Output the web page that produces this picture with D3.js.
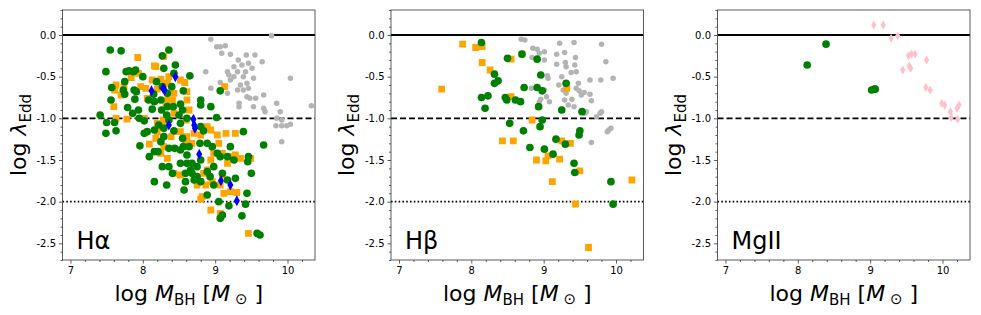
<!DOCTYPE html>
<html><head><meta charset="utf-8">
<script src="https://cdn.jsdelivr.net/npm/d3@7"></script>
<style>body{margin:0;background:#fff} svg{display:block} text{font-family:"DejaVu Sans",sans-serif}</style>
</head><body><svg id="c" width="981" height="315"></svg>
<script>
// ---- data ----
const panelNames = ["Hα", "Hβ", "MgII"];
const xTicks = [7, 8, 9, 10];
const xTickLabels = ["7", "8", "9", "10"];
const yTicks = [0, -0.5, -1, -1.5, -2, -2.5];
const yTickLabels = ["0.0", "-0.5", "-1.0", "-1.5", "-2.0", "-2.5"];
const refSolid = 0, refDashed = -1, refDotted = -2;

// H-alpha panel
const haGray = [[8.94,-0.05],[9.02,-0.14],[9.07,-0.14],[9.14,-0.13],[9.09,-0.22],[9.21,-0.23],[9.32,-0.30],[9.43,-0.24],[9.55,-0.24],[9.65,-0.32],[9.78,-0.01],[8.87,-0.44],[9.26,-0.38],[9.37,-0.36],[9.46,-0.34],[9.51,-0.40],[9.31,-0.44],[9.42,-0.44],[9.39,-0.50],[9.53,-0.52],[9.17,-0.44],[9.19,-0.48],[9.26,-0.50],[9.21,-0.54],[9.07,-0.57],[8.94,-0.64],[9.35,-0.60],[9.44,-0.58],[9.46,-0.64],[9.31,-0.66],[9.39,-0.66],[9.17,-0.70],[9.44,-0.74],[9.48,-0.76],[9.56,-0.76],[9.67,-0.72],[9.33,-0.82],[9.33,-0.86],[9.53,-0.86],[9.67,-0.88],[9.69,-0.92],[9.85,-0.82],[9.90,-0.92],[10.04,-0.52],[10.33,-0.85],[9.85,-1.00],[9.92,-1.02],[9.84,-1.09],[9.92,-1.09],[9.99,-1.09],[10.04,-1.07],[9.92,-1.28]];
const haOrange = [[7.93,-0.27],[8.16,-0.37],[8.18,-0.38],[8.29,-0.26],[7.63,-0.60],[7.61,-0.66],[7.60,-0.86],[7.63,-1.00],[7.78,-1.01],[7.70,-0.72],[7.74,-0.63],[7.84,-0.51],[7.94,-0.46],[7.97,-0.62],[8.06,-0.76],[8.04,-0.64],[8.13,-0.54],[8.25,-0.53],[8.20,-0.65],[8.29,-0.61],[8.34,-0.58],[8.43,-0.70],[8.41,-0.78],[8.58,-0.57],[8.61,-0.68],[8.61,-0.78],[8.34,-0.78],[8.32,-0.84],[8.43,-0.94],[8.64,-0.90],[8.02,-1.00],[8.20,-1.06],[8.28,-1.02],[8.29,-1.06],[8.20,-1.16],[8.18,-1.24],[8.09,-1.31],[8.39,-1.22],[8.29,-1.34],[8.43,-1.16],[8.52,-1.16],[8.60,-1.02],[8.61,-1.22],[8.71,-1.18],[8.80,-1.20],[8.89,-1.10],[8.94,-1.14],[9.03,-1.20],[9.05,-1.30],[9.15,-1.18],[9.28,-1.18],[9.13,-0.62],[8.98,-1.42],[9.10,-1.42],[9.21,-1.46],[9.28,-1.44],[9.17,-1.54],[9.35,-1.48],[9.49,-1.48],[8.94,-1.50],[8.89,-1.62],[8.84,-1.66],[8.87,-1.80],[8.80,-1.76],[8.75,-1.80],[8.82,-1.94],[8.80,-1.97],[8.96,-1.76],[9.07,-1.80],[9.12,-1.90],[9.10,-1.68],[9.21,-1.88],[9.30,-1.89],[8.94,-2.10],[9.07,-2.14],[9.46,-2.38],[8.59,-1.28],[8.68,-1.30],[8.34,-1.48],[8.43,-1.66],[8.52,-1.68],[8.25,-1.42],[8.52,-0.54],[8.36,-0.50]];
const haGreen = [[7.41,-0.96],[7.49,-0.44],[7.55,-0.18],[7.70,-0.19],[7.57,-0.63],[7.56,-0.78],[7.50,-1.05],[7.61,-1.05],[7.49,-1.18],[7.63,-1.15],[7.77,-0.44],[7.81,-0.43],[7.75,-0.56],[7.73,-0.66],[7.75,-0.71],[7.79,-0.87],[7.87,-0.44],[7.90,-0.42],[7.88,-0.66],[7.91,-0.68],[7.89,-0.77],[7.94,-0.90],[8.00,-0.50],[7.95,-1.00],[7.86,-0.94],[8.02,-1.03],[8.08,-0.78],[8.16,-0.80],[8.13,-0.89],[8.15,-0.71],[8.19,-0.56],[8.25,-0.78],[8.27,-0.25],[8.36,-0.18],[8.29,-0.40],[8.27,-0.62],[8.34,-0.70],[8.45,-0.36],[8.43,-0.46],[8.40,-0.62],[8.34,-0.86],[8.42,-0.86],[8.52,-0.83],[8.55,-0.90],[8.56,-0.67],[8.65,-0.49],[8.50,-0.96],[8.52,-1.06],[8.61,-1.00],[8.80,-0.78],[8.80,-0.84],[8.94,-0.86],[9.02,-0.99],[9.07,-0.67],[8.80,-1.10],[8.84,-1.15],[8.79,-1.30],[8.89,-1.30],[8.96,-1.34],[9.03,-1.42],[9.07,-1.46],[9.17,-1.46],[9.21,-1.34],[9.26,-1.50],[9.39,-1.16],[9.46,-1.46],[9.45,-1.52],[9.50,-1.66],[9.44,-1.90],[9.42,-2.03],[9.07,-2.20],[9.10,-2.16],[9.19,-2.05],[9.37,-2.17],[9.58,-2.38],[9.62,-2.40],[9.67,-1.32],[8.93,-1.70],[8.98,-1.58],[8.98,-1.80],[9.10,-1.66],[8.75,-1.58],[8.68,-1.54],[8.66,-1.62],[8.59,-1.66],[8.59,-1.76],[8.71,-1.74],[8.75,-1.70],[8.57,-1.86],[8.89,-1.92],[9.17,-1.74],[8.89,-1.64],[8.80,-1.50],[8.61,-1.44],[8.52,-1.38],[8.44,-1.36],[8.36,-1.36],[8.56,-1.34],[8.55,-1.24],[8.25,-1.28],[8.29,-1.22],[8.21,-1.40],[8.41,-1.66],[8.36,-1.58],[8.27,-1.58],[8.16,-1.40],[8.09,-1.46],[7.96,-1.33],[8.33,-1.80],[8.16,-1.76],[8.02,-1.18],[8.06,-1.16],[8.22,-1.08],[8.29,-1.12],[8.36,-1.02],[8.43,-1.15],[8.16,-1.14],[8.26,-0.90],[8.33,-0.96],[8.64,-1.34],[8.52,-1.54],[8.61,-1.54],[8.68,-1.66],[8.80,-1.76],[9.05,-2.00],[9.28,-1.72]];
const haBlue = [[8.12,-0.67],[8.28,-0.64],[8.30,-0.66],[8.45,-0.50],[8.36,-1.08],[8.70,-1.01],[8.71,-1.08],[8.72,-1.12],[8.78,-1.43],[9.08,-1.75],[9.21,-1.80],[9.30,-1.99]];

// H-beta panel
const hbGray = [[8.69,-0.05],[8.74,-0.06],[8.85,-0.16],[8.91,-0.17],[8.84,-0.27],[8.94,-0.22],[9.01,-0.20],[9.01,-0.30],[9.22,-0.10],[9.29,-0.21],[9.42,-0.09],[9.18,-0.23],[9.18,-0.35],[9.30,-0.33],[9.31,-0.38],[9.44,-0.27],[9.43,-0.36],[9.45,-0.44],[9.38,-0.45],[9.06,-0.52],[9.05,-0.49],[9.25,-0.50],[9.21,-0.60],[9.27,-0.66],[9.31,-0.70],[9.48,-0.58],[9.45,-0.64],[9.49,-0.67],[9.52,-0.72],[9.56,-0.69],[9.64,-0.54],[9.64,-0.71],[9.66,-0.79],[9.79,-0.54],[9.80,-0.11],[9.86,-0.32],[9.96,-0.52],[8.96,-0.77],[8.94,-0.80],[9.04,-0.74],[9.08,-0.80],[9.29,-0.78],[9.34,-0.84],[9.39,-0.77],[9.42,-0.86],[9.59,-0.92],[9.57,-0.94],[9.73,-0.98],[9.78,-0.94],[9.80,-0.92],[9.90,-1.14],[9.93,-1.12],[9.88,-1.16],[9.66,-1.29],[8.83,-0.64],[9.01,-0.66]];
const hbOrange = [[7.59,-0.65],[7.88,-0.11],[8.06,-0.15],[8.15,-0.14],[8.15,-0.33],[8.26,-0.42],[8.55,-0.74],[8.55,-0.29],[8.70,-0.23],[8.43,-1.27],[8.58,-1.27],[8.84,-1.02],[8.90,-1.50],[9.03,-1.51],[9.06,-1.45],[9.22,-1.49],[9.25,-1.27],[9.37,-1.30],[9.32,-0.64],[9.12,-1.76],[9.50,-1.63],[9.44,-2.03],[9.62,-2.55],[10.22,-1.74]];
const hbGreen = [[8.14,-0.09],[8.14,-0.75],[8.23,-0.73],[8.19,-0.88],[8.32,-0.47],[8.32,-0.58],[8.37,-0.55],[8.50,-0.28],[8.47,-0.75],[8.49,-0.78],[8.61,-0.78],[8.68,-0.80],[8.53,-1.06],[8.73,-0.63],[8.70,-0.23],[8.72,-1.15],[8.81,-1.35],[8.91,-0.29],[8.91,-0.63],[8.96,-0.48],[8.98,-0.67],[8.93,-0.86],[8.98,-1.02],[8.95,-1.10],[9.01,-1.37],[9.13,-1.43],[9.17,-1.25],[9.25,-0.90],[9.31,-0.58],[9.30,-1.31],[9.42,-1.54],[9.43,-1.65],[9.50,-1.15],[9.49,-1.20],[9.53,-0.92],[9.93,-1.76],[9.96,-2.03]];

// MgII panel
const mgGreen = [[8.13,-0.36],[8.39,-0.11],[9.02,-0.66],[9.06,-0.65],[9.07,-0.65]];
const mgPink = [[9.05,0.12],[9.18,0.12],[9.29,-0.04],[9.38,-0.01],[9.53,-0.25],[9.57,-0.23],[9.62,-0.23],[9.54,-0.37],[9.56,-0.40],[9.45,-0.42],[9.78,-0.30],[9.77,-0.63],[9.83,-0.66],[9.99,-0.82],[10.03,-0.84],[10.11,-0.92],[10.12,-0.99],[10.20,-0.88],[10.23,-0.84],[10.21,-1.01]];

const panelSeries = [
  [{d: haGray, t: "gray"}, {d: haOrange, t: "orange"}, {d: haGreen, t: "green"}, {d: haBlue, t: "blue"}],
  [{d: hbGray, t: "gray"}, {d: hbOrange, t: "orange"}, {d: hbGreen, t: "green"}],
  [{d: mgGreen, t: "green"}, {d: mgPink, t: "pink"}]
];

// ---- layout ----
const svg = d3.select("#c");
const lefts = [62.5, 391, 717.5];
const W = 252.5, topY = 10, H = 250;
const xDomain = [6.89, 10.38], yDomain = [-2.7, 0.3];
const spine = "#333";

panelSeries.forEach((series, i) => {
  const x0 = lefts[i];
  const x = d3.scaleLinear().domain(xDomain).range([x0, x0 + W]);
  const y = d3.scaleLinear().domain(yDomain).range([topY + H, topY]);
  const g = svg.append("g");

  const clip = "clip" + i;
  svg.append("clipPath").attr("id", clip).append("rect").attr("x", x0).attr("y", topY).attr("width", W).attr("height", H);
  const pg = g.append("g").attr("clip-path", `url(#${clip})`);
  pg.append("line").attr("x1", x0).attr("x2", x0 + W).attr("y1", y(refSolid)).attr("y2", y(refSolid))
    .attr("stroke", "#000").attr("stroke-width", 1.8);
  pg.append("line").attr("x1", x0).attr("x2", x0 + W).attr("y1", y(refDashed)).attr("y2", y(refDashed))
    .attr("stroke", "#000").attr("stroke-width", 1.8).attr("stroke-dasharray", "6,3");
  pg.append("line").attr("x1", x0).attr("x2", x0 + W).attr("y1", y(refDotted)).attr("y2", y(refDotted))
    .attr("stroke", "#000").attr("stroke-width", 1.6).attr("stroke-dasharray", "1.6,2.2");

  series.forEach(s => {
    const sel = pg.append("g").selectAll("path").data(s.d).join("path")
      .attr("transform", d => `translate(${x(d[0])},${y(d[1])})`);
    if (s.t === "gray") sel.attr("d", d3.symbol(d3.symbolCircle, 24)).attr("fill", "#b4b4b4");
    if (s.t === "green") sel.attr("d", d3.symbol(d3.symbolCircle, 46)).attr("fill", "#008000");
    if (s.t === "orange") sel.attr("d", "M-3.4,-3.4H3.4V3.4H-3.4Z").attr("fill", "#ffa500");
    if (s.t === "blue") sel.attr("d", "M0,-5.5L3,0L0,5.5L-3,0Z").attr("fill", "#0000ff");
    if (s.t === "pink") sel.attr("d", "M0,-4.4L2.6,0L0,4.4L-2.6,0Z").attr("fill", "#ffc0cb");
  });

  const xAxis = d3.axisBottom(x).tickValues(xTicks).tickFormat((d, k) => xTickLabels[k]).tickSize(3.5).tickPadding(3);
  const xMinor = d3.axisBottom(x).tickValues(d3.range(7.2, 10.39, 0.2).filter(v => Math.abs(v - Math.round(v)) > 0.01)).tickFormat("").tickSize(2);
  const yAxis = d3.axisLeft(y).tickValues(yTicks).tickFormat((d, k) => yTickLabels[k]).tickSize(3.5).tickPadding(3);
  const yMinor = d3.axisLeft(y).tickValues(d3.range(-2.7, 0.31, 0.1).filter(v => Math.abs(v * 2 - Math.round(v * 2)) > 0.01)).tickFormat("").tickSize(2);
  [[xAxis, "x"], [xMinor, "x"], [yAxis, "y"], [yMinor, "y"]].forEach(([ax, t]) => {
    const a = g.append("g").attr("transform", t === "x" ? `translate(0,${topY + H})` : `translate(${x0},0)`).call(ax);
    a.select(".domain").remove();
    a.selectAll("line").attr("stroke", spine).attr("stroke-width", 0.8);
    a.selectAll("text").attr("fill", "#000").attr("font-size", 10).attr("font-family", "DejaVu Sans");
  });
  g.append("rect").attr("x", x0).attr("y", topY).attr("width", W).attr("height", H)
    .attr("fill", "none").attr("stroke", spine).attr("stroke-width", 0.8);

  g.append("text").attr("x", x0 + 14).attr("y", 249).attr("font-size", 24).text(panelNames[i]);

  const yl = g.append("text").attr("transform", `translate(${x0 - 37},${topY + H / 2}) rotate(-90)`)
    .attr("text-anchor", "middle").attr("font-size", 22);
  yl.append("tspan").text("log ");
  yl.append("tspan").attr("font-style", "italic").text("λ");
  yl.append("tspan").attr("font-size", 15).attr("dy", 5).text("Edd");

  const xl = g.append("text").attr("x", x0 + W / 2).attr("y", 301).attr("text-anchor", "middle").attr("font-size", 22);
  xl.append("tspan").text("log ");
  xl.append("tspan").attr("font-style", "italic").text("M");
  xl.append("tspan").attr("font-size", 15).attr("dy", 4).text("BH");
  xl.append("tspan").attr("dy", -4).text(" [");
  xl.append("tspan").attr("font-style", "italic").text("M");
  xl.append("tspan").attr("font-size", 15).attr("dy", 3).text(" ⊙");
  xl.append("tspan").attr("dy", -3).text(" ]");
});
</script></body></html>
